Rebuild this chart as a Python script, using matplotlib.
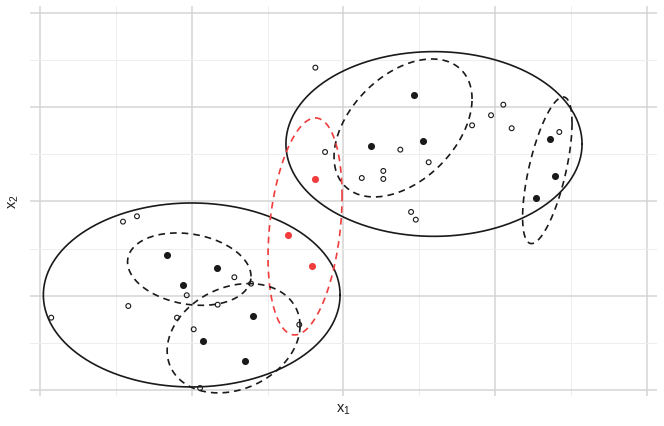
import numpy as np
import matplotlib
matplotlib.use("Agg")
import matplotlib.pyplot as plt
from matplotlib.ticker import MultipleLocator

plt.rcParams['font.family'] = ['Liberation Sans', 'DejaVu Sans']

# ---- data ----
open_x = [0.547, 0.639, 0.967, 0.582, 0.074, 0.903, 1.281, 1.391, 1.171, 1.013, 1.055, 1.709,
          1.815, 1.879, 2.375, 2.562, 2.263, 2.121, 2.263, 2.446, 2.477, 3.054, 2.973, 2.848,
          3.109, 3.423]
open_y = [1.786, 1.843, 1.005, 0.891, 0.767, 0.767, 1.196, 1.128, 0.905, 0.644, 0.021, 0.693,
          3.420, 2.525, 2.550, 2.416, 2.324, 2.249, 2.239, 1.889, 1.807, 3.027, 2.915, 2.808,
          2.777, 2.737]

filled_x = [0.839, 0.943, 1.167, 1.404, 1.073, 1.351, 2.467, 2.525, 2.180, 3.360, 3.395, 3.268]
filled_y = [1.436, 1.117, 1.298, 0.782, 0.523, 0.311, 3.130, 2.639, 2.586, 2.666, 2.274, 2.040]

red_x = [1.633, 1.793, 1.813]
red_y = [1.641, 1.319, 2.242]

# ellipses: center x, center y, half-width x, half-height y, correlation, style
ell_cx = [1.000, 2.597, 2.393, 3.344, 1.747, 0.984, 1.276]
ell_cy = [1.008, 2.610, 2.780, 2.331, 1.735, 1.282, 0.549]
ell_sx = [0.978, 0.976, 0.455, 0.163, 0.244, 0.407, 0.438]
ell_sy = [0.976, 0.980, 0.732, 0.778, 1.151, 0.384, 0.580]
ell_rho = [0.0, 0.0, 0.42, 0.64, 0.28, -0.20, 0.23]
ell_kind = ['solid', 'solid', 'dashed', 'dashed', 'red', 'dashed', 'dashed']

# ---- figure ----
fig = plt.figure(figsize=(6.64, 4.27), dpi=100)
W, H = 664, 427
ax = fig.add_axes([30 / W, (H - 397) / H, (657 - 30) / W, (397 - 7) / H])
ax.set_xlim(-0.066, 4.067)
ax.set_ylim(-0.064, 4.074)
for s in ax.spines.values():
    s.set_visible(False)
ax.xaxis.set_major_locator(MultipleLocator(1))
ax.xaxis.set_minor_locator(MultipleLocator(0.5))
ax.yaxis.set_major_locator(MultipleLocator(1))
ax.yaxis.set_minor_locator(MultipleLocator(0.5))
ax.grid(which='major', color='#d4d4d4', linewidth=1.1)
ax.grid(which='minor', color='#eeeeee', linewidth=0.7)
ax.tick_params(which='both', length=0, labelbottom=False, labelleft=False)
ax.set_axisbelow(True)

t = np.linspace(0, 2 * np.pi, 400)
for cx, cy, sx, sy, rho, kind in zip(ell_cx, ell_cy, ell_sx, ell_sy, ell_rho, ell_kind):
    ex = cx + sx * np.cos(t)
    ey = cy + sy * (rho * np.cos(t) + np.sqrt(1 - rho ** 2) * np.sin(t))
    if kind == 'solid':
        ax.plot(ex, ey, color='#1a1a1a', lw=1.2, zorder=2)
    elif kind == 'dashed':
        ax.plot(ex, ey, color='#1a1a1a', lw=1.2, linestyle=(0, (4, 3)), zorder=2)
    else:
        ax.plot(ex, ey, color='#f03c3c', lw=1.2, linestyle=(0, (4, 3)), zorder=2)

ax.scatter(open_x, open_y, s=12, facecolors='none', edgecolors='#1a1a1a', linewidths=0.8, zorder=3)
ax.scatter(filled_x, filled_y, s=26, color='#1a1a1a', linewidths=0, zorder=3)
ax.scatter(red_x, red_y, s=26, color='#f03c3c', linewidths=0, zorder=3)

fig.text(343 / W, 1 - 410 / H, r'x$_\mathregular{1}$', ha='center', va='center', fontsize=10.5, color='#1a1a1a')
fig.text(14 / W, 1 - 202 / H, r'x$_\mathregular{2}$', ha='center', va='center', rotation=90, fontsize=10.5, color='#1a1a1a')

fig.savefig('out.png', dpi=100)
